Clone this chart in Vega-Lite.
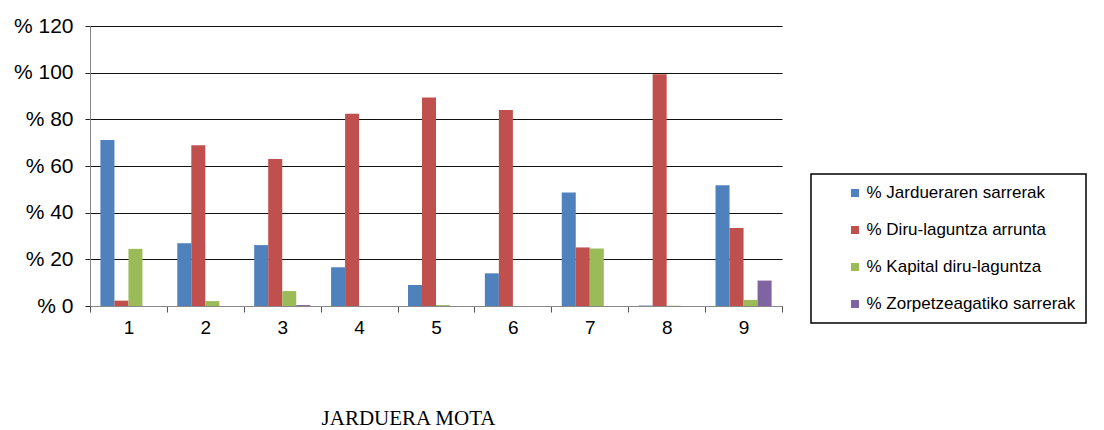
{
  "$schema": "https://vega.github.io/schema/vega-lite/v6.json",
  "width": 692,
  "height": 280,
  "autosize": {"type": "none"},
  "padding": {"left": 90, "top": 26, "right": 322, "bottom": 124},
  "background": "white",
  "config": {
    "view": {"stroke": null},
    "font": "Liberation Sans"
  },
  "data": {
    "values": [
      {"cat": "1", "series": "% Jardueraren sarrerak", "value": 71.1},
      {"cat": "1", "series": "% Diru-laguntza arrunta", "value": 2.3},
      {"cat": "1", "series": "% Kapital diru-laguntza", "value": 24.5},
      {"cat": "1", "series": "% Zorpetzeagatiko sarrerak", "value": 0},
      {"cat": "2", "series": "% Jardueraren sarrerak", "value": 26.9},
      {"cat": "2", "series": "% Diru-laguntza arrunta", "value": 68.9},
      {"cat": "2", "series": "% Kapital diru-laguntza", "value": 2.1},
      {"cat": "2", "series": "% Zorpetzeagatiko sarrerak", "value": 0},
      {"cat": "3", "series": "% Jardueraren sarrerak", "value": 26.1},
      {"cat": "3", "series": "% Diru-laguntza arrunta", "value": 63.0},
      {"cat": "3", "series": "% Kapital diru-laguntza", "value": 6.4},
      {"cat": "3", "series": "% Zorpetzeagatiko sarrerak", "value": 0.4},
      {"cat": "4", "series": "% Jardueraren sarrerak", "value": 16.6},
      {"cat": "4", "series": "% Diru-laguntza arrunta", "value": 82.4},
      {"cat": "4", "series": "% Kapital diru-laguntza", "value": 0},
      {"cat": "4", "series": "% Zorpetzeagatiko sarrerak", "value": 0},
      {"cat": "5", "series": "% Jardueraren sarrerak", "value": 9.0},
      {"cat": "5", "series": "% Diru-laguntza arrunta", "value": 89.4},
      {"cat": "5", "series": "% Kapital diru-laguntza", "value": 0.4},
      {"cat": "5", "series": "% Zorpetzeagatiko sarrerak", "value": 0},
      {"cat": "6", "series": "% Jardueraren sarrerak", "value": 14.0},
      {"cat": "6", "series": "% Diru-laguntza arrunta", "value": 84.0},
      {"cat": "6", "series": "% Kapital diru-laguntza", "value": 0},
      {"cat": "6", "series": "% Zorpetzeagatiko sarrerak", "value": 0},
      {"cat": "7", "series": "% Jardueraren sarrerak", "value": 48.6},
      {"cat": "7", "series": "% Diru-laguntza arrunta", "value": 25.1},
      {"cat": "7", "series": "% Kapital diru-laguntza", "value": 24.6},
      {"cat": "7", "series": "% Zorpetzeagatiko sarrerak", "value": 0},
      {"cat": "8", "series": "% Jardueraren sarrerak", "value": 0.2},
      {"cat": "8", "series": "% Diru-laguntza arrunta", "value": 99.3},
      {"cat": "8", "series": "% Kapital diru-laguntza", "value": 0.1},
      {"cat": "8", "series": "% Zorpetzeagatiko sarrerak", "value": 0},
      {"cat": "9", "series": "% Jardueraren sarrerak", "value": 51.7},
      {"cat": "9", "series": "% Diru-laguntza arrunta", "value": 33.4},
      {"cat": "9", "series": "% Kapital diru-laguntza", "value": 2.6},
      {"cat": "9", "series": "% Zorpetzeagatiko sarrerak", "value": 10.9}
    ]
  },
  "mark": {"type": "bar", "width": {"band": 1}},
  "encoding": {
    "x": {
      "field": "cat",
      "type": "nominal",
      "sort": null,
      "scale": {"paddingInner": 0, "paddingOuter": 0},
      "axis": {
        "title": "JARDUERA MOTA",
        "titleFont": "Liberation Serif",
        "titleFontSize": 21,
        "titleFontWeight": "normal",
        "titleColor": "#000000",
        "titleX": 318,
        "titleY": 122,
        "titleAlign": "center",
        "titleBaseline": "bottom",
        "labelAngle": 0,
        "labelFontSize": 19,
        "labelColor": "#000000",
        "labelPadding": 6,
        "tickBand": "extent",
        "tickSize": 6,
        "tickColor": "#555555",
        "domainColor": "#888888",
        "grid": false
      }
    },
    "xOffset": {
      "field": "series",
      "type": "nominal",
      "sort": null,
      "scale": {"paddingInner": 0, "paddingOuter": 0.743}
    },
    "y": {
      "field": "value",
      "type": "quantitative",
      "scale": {"domain": [0, 120], "nice": false},
      "axis": {
        "title": null,
        "values": [0, 20, 40, 60, 80, 100, 120],
        "labelExpr": "'% ' + datum.value",
        "labelFontSize": 21,
        "labelColor": "#000000",
        "labelPadding": 12,
        "tickSize": 5,
        "tickColor": "#222222",
        "grid": true,
        "gridColor": "#111111",
        "gridOpacity": 1,
        "gridWidth": 1,
        "domainColor": "#888888"
      }
    },
    "color": {
      "field": "series",
      "type": "nominal",
      "sort": null,
      "scale": {
        "domain": ["% Jardueraren sarrerak", "% Diru-laguntza arrunta", "% Kapital diru-laguntza", "% Zorpetzeagatiko sarrerak"],
        "range": ["#4F81BD", "#C0504D", "#9BBB59", "#8064A2"]
      },
      "legend": {
        "title": null,
        "orient": "none",
        "legendX": 721,
        "legendY": 148,
        "strokeColor": "#000000",
        "padding": 10.5,
        "symbolType": "square",
        "symbolSize": 64,
        "symbolStrokeWidth": 0,
        "symbolOffset": 25,
        "labelOffset": 3,
        "labelFontSize": 17,
        "labelColor": "#000000",
        "rowPadding": 19,
        "labelLimit": 400,
        "encode": {"legend": {"update": {"strokeWidth": {"value": 1.5}}}}
      }
    }
  }
}
